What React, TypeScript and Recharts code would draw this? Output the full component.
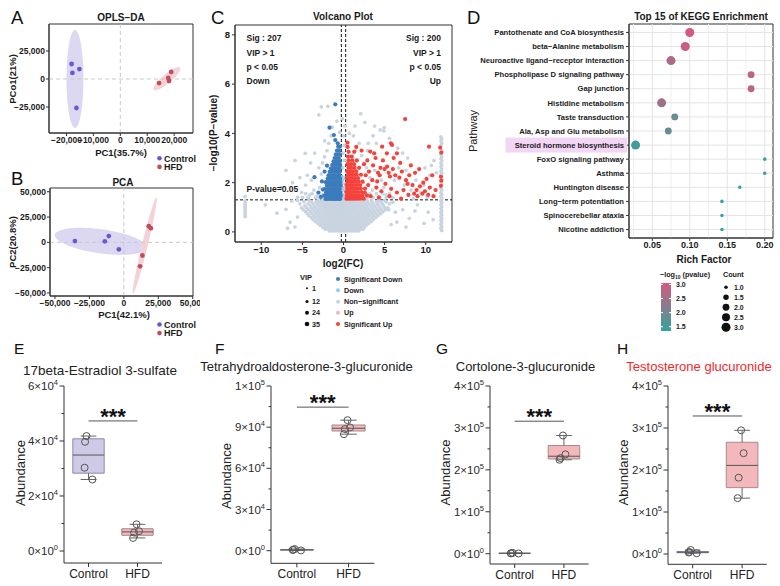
import React from 'react';
import {
  ScatterChart,
  Scatter,
  XAxis,
  YAxis,
  ZAxis,
  Cell,
  ReferenceArea,
  ReferenceLine,
} from 'recharts';

const FONT = '"Liberation Sans", Arial, Helvetica, sans-serif';
const INK = '#1a1a1a';
const FRAME = '#333333';

// ---------- A / B: score plots ----------
const GROUPS = ['Control', 'HFD'];
const GROUP_DOTS = ['#6b58cf', '#c04e5a'];
const GROUP_HALOS = ['#dcd8f1', '#f3d3d7'];

const OPLS_CONTROL = [[-18100, 13400], [-17800, 5400], [-15200, 8900], [-16300, -25900]];
const OPLS_HFD = [[14400, -3600], [17800, 900], [18100, -1800], [18900, 6250]];
// confidence ellipses: centre + two half-axis vectors
const OPLS_ELLIPSES = [
  { c: [-16850, 0], m: [0, 43750], n: [3150, 0] },
  { c: [17300, 300], m: [4900, 9800], n: [1100, -3100] },
];
const OPLS_X_TICKS = [-20000, -10000, 0, 10000, 20000];
const OPLS_Y_TICKS = [-25000, 0, 25000];

const PCA_CONTROL = [[-35500, 1300], [-13800, 1000], [-10900, 6200], [-3600, -6900]];
const PCA_HFD = [[18100, 16000], [19600, 14000], [13500, -13000], [11800, -23700]];
const PCA_ELLIPSES = [
  { c: [-16700, 1000], m: [33400, -5900], n: [0, 12000] },
  { c: [15200, -3000], m: [8500, 47800], n: [2200, 0] },
];
const PCA_X_TICKS = [-50000, -25000, 0, 25000, 50000];
const PCA_Y_TICKS = [-50000, -25000, 0, 25000, 50000];

// ---------- C: volcano ----------
const NS_ROWS: [number, number[]][] = [
  [0.04, [-1.7, -1.3, -0.95, -0.6, -0.3, 0.05, 0.35, 0.7, 1.05, 1.45, 1.85]],
  [0.11, [-2.2, -1.85, -1.5, -1.15, -0.8, -0.45, -0.15, 0.2, 0.5, 0.85, 1.2, 1.55, 1.95, 2.35]],
  [0.18, [-2.5, -2.1, -1.75, -1.4, -1.05, -0.7, -0.35, 0, 0.3, 0.65, 1, 1.35, 1.7, 2.1, 2.5]],
  [0.26, [-2.8, -2.35, -1.95, -1.6, -1.25, -0.9, -0.55, -0.2, 0.15, 0.45, 0.8, 1.15, 1.5, 1.9, 2.3, 2.75]],
  [0.34, [-3.1, -2.65, -2.2, -1.8, -1.45, -1.1, -0.75, -0.4, -0.05, 0.3, 0.65, 1, 1.35, 1.75, 2.15, 2.6, 3.05]],
  [0.42, [-3.4, -2.9, -2.45, -2.05, -1.65, -1.3, -0.95, -0.6, -0.25, 0.1, 0.45, 0.8, 1.15, 1.55, 1.95, 2.4, 2.85, 3.35]],
  [0.5, [-3.7, -3.15, -2.7, -2.25, -1.85, -1.5, -1.1, -0.75, -0.4, -0.05, 0.3, 0.65, 1, 1.4, 1.8, 2.2, 2.65, 3.1, 3.6]],
  [0.58, [-3.9, -3.4, -2.9, -2.45, -2.05, -1.65, -1.3, -0.95, -0.6, -0.2, 0.15, 0.5, 0.85, 1.25, 1.6, 2, 2.45, 2.9, 3.4, 3.9]],
  [0.66, [-4.2, -3.6, -3.1, -2.65, -2.2, -1.8, -1.45, -1.1, -0.75, -0.4, -0.05, 0.3, 0.7, 1.05, 1.45, 1.85, 2.3, 2.75, 3.2, 3.7, 4.2]],
  [0.74, [-4.4, -3.85, -3.3, -2.85, -2.4, -2, -1.6, -1.25, -0.9, -0.55, -0.2, 0.15, 0.5, 0.9, 1.3, 1.7, 2.1, 2.55, 3, 3.5, 4, 4.5]],
  [0.82, [-4.6, -4, -3.5, -3.05, -2.6, -2.15, -1.75, -1.4, -1.05, -0.7, -0.35, 0, 0.35, 0.75, 1.1, 1.5, 1.95, 2.4, 2.85, 3.3, 3.8, 4.3, 4.8]],
  [0.9, [-4.9, -4.25, -3.7, -3.2, -2.75, -2.3, -1.9, -1.55, -1.2, -0.85, -0.5, -0.15, 0.2, 0.55, 0.95, 1.35, 1.75, 2.2, 2.65, 3.1, 3.6, 4.1, 4.6, 5.1]],
  [0.98, [-5.1, -4.5, -3.9, -3.4, -2.9, -2.45, -2.05, -1.7, -1.35, -1, -0.65, -0.3, 0.05, 0.4, 0.8, 1.2, 1.6, 2.05, 2.5, 2.95, 3.45, 3.95, 4.45, 5, 5.4]],
  [1.06, [-4.7, -4.05, -3.55, -3.05, -2.6, -2.2, -1.85, -1.5, -1.15, -0.8, -0.45, -0.1, 0.25, 0.6, 1, 1.4, 1.85, 2.3, 2.8, 3.3, 3.8, 4.3, 4.85]],
  [1.14, [-5.3, -4.3, -3.7, -3.2, -2.75, -2.35, -1.95, -1.6, -1.25, -0.9, -0.55, -0.2, 0.15, 0.5, 0.85, 1.25, 1.65, 2.1, 2.6, 3.1, 3.6, 4.15, 4.7, 5.6]],
  [1.22, [-4.8, -3.9, -3.35, -2.9, -2.5, -2.1, -1.7, -1.35, -1, -0.65, -0.3, 0.05, 0.4, 0.75, 1.1, 1.5, 1.95, 2.4, 2.9, 3.45, 4, 4.55, 5.2]],
  [1.28, [-5.6, -4.2, -3.1, -2.6, -2.2, -1.8, -1.45, -1.1, -0.7, -0.35, 0, 0.35, 0.7, 1.05, 1.45, 1.9, 2.35, 2.85, 3.4, 4.3, 5]],
  [1.4, [-5, -4.3, -3.4, -2.9, 2.9, 3.6, 4.4, 5.2]],
  [1.55, [-4.6, -3.8, -3.1, 3.2, 4, 4.8, 5.6]],
];
const NS_SCATTER = [
  [-2.6, 1.5], [-2.9, 1.8], [-3.2, 1.45], [-3.6, 1.7], [-4.1, 1.5], [-4.6, 1.9], [-5.1, 1.6], [-5.6, 1.4],
  [-2.7, 2.35], [-3, 2.6], [-2.55, 2.8], [-2.3, 3.05], [-2, 3.3], [-1.8, 3.6], [-1.5, 3.9], [-2.3, 3.7],
  [-1.35, 4.25], [-0.8, 4.5], [-0.45, 4.05], [-2.7, 5.08], [-3, 4.75], [-1.9, 5.1], [-4.66, 3.19], [-4, 2.8],
  [-3.5, 3.2], [-6.2, 2], [-7, 2.5], [-5.9, 2.9], [-4.4, 2.3], [-3.9, 2.1], [-5.3, 2.2],
  [-0.1, 2.6], [0.08, 2.9], [-0.05, 3.2], [0.1, 3.5], [0.02, 3.9], [0.12, 4.3], [-0.12, 4.6], [0.05, 1.5], [0.15, 1.8], [0.1, 2.2],
  [1.5, 3.3], [2.2, 3.1], [3, 3.6], [4, 3.6], [2.8, 2.6], [3.2, 2.2], [4.6, 2.1], [5.2, 1.5], [6.2, 2.1], [7.4, 1.9],
  [8.8, 2.1], [9.9, 2.6], [10.7, 2.7], [11.3, 2.4], [7.8, 3], [6.6, 3.4], [5.6, 3.8], [4.9, 4.1], [3.8, 4.3], [2.6, 4.45],
  [1.4, 4.3], [0.7, 4], [1.9, 3.6], [3.5, 1.7], [6, 1.4], [8.5, 1.35], [9.4, 1.6], [2.1, 4.8], [4.95, 4.23], [4.46, 4.14],
  [1.2, 3.9], [2.9, 3.3], [3.6, 3.9], [2.4, 2], [2.8, 1.4], [3.8, 2.5], [4.9, 1.8], [6.7, 2.6], [7.6, 2.5], [8.2, 1.7],
  [9.8, 1.9], [10.5, 2.3], [11, 2.9], [10.2, 1.4], [7.2, 3.2],
  [-8.1, 0.76], [-7, 0.92], [-6.5, 0.4], [-5.9, 0.2], [-7.6, 1.8], [-9.5, 1.1], [-6.3, 1.25], [-5.6, 0.6], [-6.8, 0.15],
  [6.5, 0.4], [7.2, 0.9], [8, 0.55], [9, 1.1], [9.8, 0.35], [10.3, 0.8], [6, 1.2], [5.8, 0.3], [6.3, 0.8], [7.6, 0.2],
  [8.7, 0.85], [10.9, 0.5], [5.5, 0.9],
];
// metabolites pinned at the fold-change limits
const NS_EDGE_LEFT = [0.62, 0.7, 0.78, 0.86, 0.94, 1.02, 1.1, 1.18, 1.26, 1.44];
const NS_EDGE_RIGHT = [
  0.06, 0.15, 0.22, 0.31, 0.4, 0.47, 0.55, 0.63, 0.7, 0.79, 0.86, 0.95, 1.03, 1.1, 1.19, 1.27, 1.35, 1.44, 1.52, 1.6,
  1.69, 1.77, 1.95, 2.03, 2.12, 2.3, 2.38, 2.46, 2.55, 2.63, 2.72, 2.8, 2.89, 2.97, 3.05, 3.14, 3.3, 3.5, 3.6, 3.7, 3.78, 3.86,
];
const DOWN_POINTS = [[-0.2, 1.38], [-0.14, 1.52], [-0.22, 1.66], [-0.1, 1.8], [-0.18, 1.95], [-0.12, 2.1], [-0.2, 2.25], [-0.08, 1.45], [-0.16, 1.72]];
const UP_POINTS = [[0.2, 1.42], [0.14, 1.68], [0.22, 1.95]];
const SIG_DOWN_ROWS: [number, number[]][] = [
  [1.34, [-2.2, -1.92, -1.63, -1.38, -1.12, -0.88, -0.63, -0.41]],
  [1.47, [-2.35, -2.06, -1.77, -1.5, -1.24, -0.99, -0.74, -0.5, -0.33]],
  [1.6, [-2.12, -1.84, -1.58, -1.31, -1.06, -0.81, -0.57, -0.38]],
  [1.74, [-2.28, -1.97, -1.7, -1.44, -1.18, -0.93, -0.68, -0.45]],
  [1.88, [-2.03, -1.76, -1.49, -1.24, -0.99, -0.74, -0.5, -0.34]],
  [2.02, [-2.16, -1.86, -1.57, -1.3, -1.05, -0.8, -0.56, -0.39]],
  [2.16, [-1.93, -1.63, -1.36, -1.1, -0.85, -0.6, -0.4]],
  [2.3, [-1.82, -1.52, -1.26, -1, -0.75, -0.5]],
  [2.44, [-1.68, -1.4, -1.14, -0.9, -0.65, -0.44]],
  [2.58, [-1.53, -1.26, -1.01, -0.76, -0.5]],
  [2.72, [-1.37, -1.11, -0.86, -0.6, -0.4]],
  [2.86, [-1.22, -0.96, -0.7, -0.46]],
  [3, [-1.08, -0.82, -0.56]],
  [3.15, [-0.93, -0.66, -0.42]],
  [3.3, [-0.8, -0.52]],
  [3.46, [-0.64, -0.44]],
];
const SIG_DOWN_SCATTER = [
  [-1, 5.18], [-1.7, 4.23], [-1.17, 3.93], [-1, 3.73], [-3.53, 2.22], [-2, 2.69], [-2.62, 2.05], [-2.5, 1.72],
  [-2.75, 1.42], [-2.3, 2.45], [-0.7, 3.6], [-3.05, 1.6],
];
const SIG_UP_ROWS: [number, number[]][] = [
  [1.35, [0.36, 0.6, 0.86, 1.12, 1.4, 1.7, 2.02, 2.45]],
  [1.48, [0.4, 0.66, 0.94, 1.24, 1.56, 1.9, 2.3, 2.85]],
  [1.62, [0.34, 0.6, 0.9, 1.2, 1.5, 1.82, 2.2]],
  [1.76, [0.45, 0.74, 1.04, 1.36, 1.7, 2.1, 2.62]],
  [1.9, [0.38, 0.68, 0.99, 1.3, 1.64, 2.02]],
  [2.04, [0.5, 0.8, 1.12, 1.46, 1.86, 2.32]],
  [2.18, [0.4, 0.7, 1.02, 1.36, 1.76]],
  [2.32, [0.55, 0.86, 1.2, 1.6, 2.12]],
  [2.46, [0.45, 0.78, 1.14, 1.54]],
  [2.6, [0.6, 0.95, 1.34, 1.9]],
  [2.75, [0.5, 0.88, 1.28]],
  [2.9, [0.64, 1.08, 1.62]],
  [3.06, [0.55, 1]],
  [3.25, [0.62, 1.3]],
  [3.45, [0.5, 1.55]],
  [3.62, [0.49]],
];
const SIG_UP_SCATTER = [
  [3.25, 3.26], [3.73, 3.19], [4.7, 3.46], [5.77, 3.6], [5.28, 3.19], [6.5, 3.19], [7.5, 4.58], [10.4, 3.46],
  [11.76, 3.42], [11.9, 3.22], [11.85, 2.24], [11.9, 2.08], [11.85, 1.87], [2.9, 2.9], [3.6, 2.7], [4.2, 2.4],
  [4.5, 2.6], [5, 2.55], [5.3, 2.65], [5.5, 2.4], [6, 2.55], [6.3, 2.3], [6.8, 2.2], [7.1, 2.45], [7.6, 2.1],
  [8, 2.3], [8.4, 1.9], [8.9, 1.7], [9.3, 1.85], [9.7, 2], [10.1, 2.15], [10.5, 1.8], [9, 1.45], [9.6, 1.55],
  [10.3, 1.5], [3, 1.9], [3.5, 2.1], [4, 1.8], [4.6, 1.65], [5.1, 1.95], [5.8, 1.75], [6.5, 1.6], [7.3, 1.7],
  [7.9, 1.5], [3.3, 1.45], [4.3, 1.4], [2.7, 2.3], [3.9, 3], [4.8, 2.9], [6.9, 2.8], [8.7, 2.4], [2.6, 1.6],
  [5.6, 1.45], [7, 1.35], [8.2, 2.7], [9.2, 2.55], [10.8, 2.3], [11.2, 1.7], [6.1, 3], [4.1, 2.05], [4.4, 2.3],
  [5.9, 3.53], [2.2, 3.3], [2.5, 2.75], [3.1, 2.45], [5.65, 2.25], [7.8, 1.95], [10.95, 1.45], [9.9, 1.65], [8.6, 1.55],
];
const VOLCANO_X_TICKS = [-10, -5, 0, 5, 10];
const VOLCANO_Y_TICKS = [0, 2, 4, 6, 8];
const FC_CUTOFF = 0.263;
const P_CUTOFF = 1.301;

// ---------- D: KEGG enrichment ----------
const PATHWAYS = [
  'Pantothenate and CoA biosynthesis',
  'beta\u2212Alanine metabolism',
  'Neuroactive ligand\u2212receptor interaction',
  'Phospholipase D signaling pathway',
  'Gap junction',
  'Histidine metabolism',
  'Taste transduction',
  'Ala, Asp and Glu metabolism',
  'Steroid hormone biosynthesis',
  'FoxO signaling pathway',
  'Asthma',
  'Huntington disease',
  'Long\u2212term potentiation',
  'Spinocerebellar ataxia',
  'Nicotine addiction',
];
const RICH_FACTOR = [0.1, 0.094, 0.075, 0.1818, 0.1818, 0.0625, 0.08, 0.0714, 0.0278, 0.2, 0.2, 0.1667, 0.1429, 0.1429, 0.1429];
const HIT_COUNT = [3, 3, 3, 2, 2, 3, 2, 2, 3, 1, 1, 1, 1, 1, 1];
const NEG_LOG_P = [3.0, 2.9, 2.6, 2.75, 2.75, 2.45, 1.95, 1.9, 1.5, 1.4, 1.4, 1.38, 1.36, 1.36, 1.36];
const HIGHLIGHT = 8;
const KEGG_X_TICKS = [0.05, 0.1, 0.15, 0.2];
const KEGG_GRID_X = [0.025, 0.05, 0.075, 0.1, 0.125, 0.15, 0.175, 0.2];
const COLORBAR_TICKS = [3.0, 2.5, 2.0, 1.5];
const COUNT_KEYS = [1.0, 1.5, 2.0, 2.5, 3.0];

// ---------- E-H: metabolite abundance ----------
const ESTRADIOL_POINTS = [[41800, 39700, 30300, 26000], [9700, 7200, 6700, 4750]];
const ESTRADIOL_BOX = [[26000, 28300, 34900, 40800, 41800], [4750, 5700, 6950, 8100, 9700]];
const ESTRADIOL_SIG = 47300;
const ESTRADIOL_TICKS = [0, 10000, 20000, 30000, 40000, 50000, 60000];

const THALDO_POINTS = [[1200, 700, 500, 200], [95100, 89800, 88600, 84900]];
const THALDO_BOX = [[200, 400, 600, 900, 1200], [84900, 87200, 89200, 91600, 95100]];
const THALDO_SIG = 104600;
const THALDO_TICKS = [0, 15000, 30000, 45000, 60000, 75000, 90000, 105000, 120000];

const CORTOLONE_POINTS = [[1800, 1200, 800, 500], [282000, 237000, 228000, 224000]];
const CORTOLONE_BOX = [[500, 700, 1000, 1400, 1800], [224000, 226000, 232500, 258000, 282000]];
const CORTOLONE_SIG = 316000;

const TESTO_POINTS = [[9500, 5000, 3500, 1800], [294500, 240000, 181700, 133000]];
const TESTO_BOX = [[1800, 3000, 4250, 6000, 9500], [133000, 158000, 211000, 266000, 294500]];
const TESTO_SIG = 328600;
const E5_TICKS = [0, 50000, 100000, 150000, 200000, 250000, 300000, 350000, 400000];

const JITTER = [[-0.04, -0.07, -0.08, 0.08], [-0.02, 0.03, -0.07, -0.09]];
const BOX_FILLS = ['#cec9e6', '#f2b8bb'];
const BOX_EDGES = ['#8f8aa8', '#a88a8c'];

// ---------- helpers ----------
const fmtComma = (v: number) => (v < 0 ? '\u2212' : '') + Math.abs(v).toLocaleString('en-US');
const fmtSigned = (v: number) => (v < 0 ? '\u2212' : '') + Math.abs(v);
const toXY = (pts: number[][]) => pts.map(([x, y]) => ({ x, y }));
const rowsToXY = (rows: [number, number[]][]) => rows.flatMap(([y, xs]) => xs.map((x) => ({ x, y })));

const dot = (fill: string, r: number) => (p: any) => <circle cx={p.cx} cy={p.cy} r={r} fill={fill} />;

const RAMP_HI = [214, 88, 127];
const RAMP_LO = [52, 163, 156];
const rampColor = (p: number) => {
  const t = Math.max(0, Math.min(1, (p - 1.35) / (3.05 - 1.35)));
  const c = RAMP_LO.map((lo, i) => Math.round(lo + (RAMP_HI[i] - lo) * t));
  return `rgb(${c.join(',')})`;
};
const countRadius = (c: number) => Math.sqrt((10 + ((c - 1) / 2) * 54) / Math.PI);

type Ellipse = { c: number[]; m: number[]; n: number[] };

// ellipse drawn inside its bounding ReferenceArea, so it follows the axis scales
function ellipseArea(e: Ellipse, fill: string, key: string) {
  const hx = Math.hypot(e.m[0], e.n[0]);
  const hy = Math.hypot(e.m[1], e.n[1]);
  const shape = (p: any) => {
    const kx = p.width / (2 * hx);
    const ky = p.height / (2 * hy);
    const ox = p.x + p.width / 2;
    const oy = p.y + p.height / 2;
    const pts: string[] = [];
    for (let i = 0; i < 96; i++) {
      const t = (i / 96) * Math.PI * 2;
      const dx = Math.cos(t) * e.m[0] + Math.sin(t) * e.n[0];
      const dy = Math.cos(t) * e.m[1] + Math.sin(t) * e.n[1];
      pts.push(`${(ox + dx * kx).toFixed(2)},${(oy - dy * ky).toFixed(2)}`);
    }
    return <polygon points={pts.join(' ')} fill={fill} stroke="none" />;
  };
  return (
    <ReferenceArea
      key={key}
      x1={e.c[0] - hx}
      x2={e.c[0] + hx}
      y1={e.c[1] - hy}
      y2={e.c[1] + hy}
      ifOverflow="visible"
      shape={shape}
    />
  );
}

const boldTick = (size: number) => ({ fontSize: size, fontWeight: 700, fill: INK, fontFamily: FONT });

function ScorePlot({ left, top, width, height, margin, yWidth, xDomain, yDomain, xTicks, yTicks, groups, ellipses }: any) {
  return (
    <div style={{ position: 'absolute', left, top }}>
      <ScatterChart width={width} height={height} margin={margin}>
        <XAxis
          type="number"
          dataKey="x"
          domain={xDomain}
          ticks={xTicks}
          interval={0}
          allowDataOverflow
          tickFormatter={fmtComma}
          tick={boldTick(8.5)}
          tickSize={3}
          tickMargin={1}
          tickLine={{ stroke: FRAME }}
          axisLine={{ stroke: FRAME }}
          height={20}
        />
        <YAxis
          type="number"
          dataKey="y"
          domain={yDomain}
          ticks={yTicks}
          interval={0}
          allowDataOverflow
          tickFormatter={fmtComma}
          tick={boldTick(8.5)}
          tickSize={3}
          tickMargin={1}
          tickLine={{ stroke: FRAME }}
          axisLine={{ stroke: FRAME }}
          width={yWidth}
        />
        {ellipses.map((e: Ellipse, i: number) => ellipseArea(e, GROUP_HALOS[i], `ell-${i}`))}
        <ReferenceLine x={0} stroke="#c9c9c9" strokeDasharray="4 3" />
        <ReferenceLine y={0} stroke="#c9c9c9" strokeDasharray="4 3" />
        {groups.map((pts: number[][], i: number) => (
          <Scatter key={GROUPS[i]} name={GROUPS[i]} data={toXY(pts)} shape={dot(GROUP_DOTS[i], 2.4)} isAnimationActive={false} />
        ))}
        <ReferenceArea x1={xDomain[0]} x2={xDomain[1]} y1={yDomain[0]} y2={yDomain[1]} fill="none" stroke={FRAME} ifOverflow="visible" />
      </ScatterChart>
    </div>
  );
}

function VolcanoPlot() {
  const xDomain = [-13.2, 13.2];
  const yDomain = [-0.41, 8.4];
  const nonSig = [
    ...rowsToXY(NS_ROWS),
    ...toXY(NS_SCATTER),
    ...NS_EDGE_LEFT.map((y) => ({ x: -11.97, y })),
    ...NS_EDGE_RIGHT.map((y, i) => ({ x: i % 2 ? 11.85 : 11.95, y })),
  ];
  return (
    <div style={{ position: 'absolute', left: 200, top: 0 }}>
      <ScatterChart width={260} height={270} margin={{ top: 25, right: 8, bottom: 8, left: 10 }}>
        <XAxis
          type="number"
          dataKey="x"
          domain={xDomain}
          ticks={VOLCANO_X_TICKS}
          interval={0}
          allowDataOverflow
          tickFormatter={fmtSigned}
          tick={boldTick(9.5)}
          tickSize={3}
          tickMargin={1}
          tickLine={{ stroke: FRAME }}
          axisLine={{ stroke: FRAME }}
          height={20}
        />
        <YAxis
          type="number"
          dataKey="y"
          domain={yDomain}
          ticks={VOLCANO_Y_TICKS}
          interval={0}
          allowDataOverflow
          tick={boldTick(9.5)}
          tickSize={3}
          tickMargin={2}
          tickLine={{ stroke: FRAME }}
          axisLine={{ stroke: FRAME }}
          width={25}
        />
        <Scatter name="Non-significant" data={nonSig} shape={dot('#c9d4e0', 1.85)} isAnimationActive={false} />
        <Scatter name="Down" data={toXY(DOWN_POINTS)} shape={dot('#8fd0ef', 1.8)} isAnimationActive={false} />
        <Scatter name="Up" data={toXY(UP_POINTS)} shape={dot('#f6b4c3', 1.8)} isAnimationActive={false} />
        <Scatter
          name="Significant Down"
          data={[...rowsToXY(SIG_DOWN_ROWS), ...toXY(SIG_DOWN_SCATTER)]}
          shape={dot('#3b7cbc', 2.1)}
          isAnimationActive={false}
        />
        <Scatter
          name="Significant Up"
          data={[...rowsToXY(SIG_UP_ROWS), ...toXY(SIG_UP_SCATTER)]}
          shape={dot('#f4423c', 2.1)}
          isAnimationActive={false}
        />
        <ReferenceLine x={-FC_CUTOFF} stroke="#111" strokeDasharray="3 2" />
        <ReferenceLine x={FC_CUTOFF} stroke="#111" strokeDasharray="3 2" />
        <ReferenceLine y={P_CUTOFF} stroke="#111" strokeDasharray="3 2" />
        <ReferenceArea x1={xDomain[0]} x2={xDomain[1]} y1={yDomain[0]} y2={yDomain[1]} fill="none" stroke={FRAME} ifOverflow="visible" />
      </ScatterChart>
    </div>
  );
}

const pathwayTick = (p: any) => {
  const i = 15 - p.payload.value;
  const hl = i === HIGHLIGHT;
  return (
    <g>
      {hl && <rect x={p.x - 118.5} y={p.y - 7.5} width={121.5} height={15} fill="#f3d5f5" />}
      <text x={p.x} y={p.y + 2.7} textAnchor="end" fontSize={7.6} fontWeight={700} fill={INK} fontFamily={FONT}>
        {PATHWAYS[i]}
      </text>
    </g>
  );
};

function KeggPlot() {
  const xDomain = [0.019, 0.211];
  const yDomain = [0.4, 15.6];
  const rows = PATHWAYS.map((_, i) => 15 - i);
  const data = PATHWAYS.map((name, i) => ({ name, x: RICH_FACTOR[i], y: 15 - i, z: HIT_COUNT[i], p: NEG_LOG_P[i] }));
  return (
    <div style={{ position: 'absolute', left: 460, top: 0 }}>
      <ScatterChart width={320} height={270} margin={{ top: 24, right: 7, bottom: 12, left: 0 }}>
        <XAxis
          type="number"
          dataKey="x"
          domain={xDomain}
          ticks={KEGG_X_TICKS}
          interval={0}
          allowDataOverflow
          tickFormatter={(v: number) => v.toFixed(2)}
          tick={boldTick(9)}
          tickSize={3}
          tickMargin={1}
          tickLine={{ stroke: FRAME }}
          axisLine={{ stroke: FRAME }}
          height={20}
        />
        <YAxis
          type="number"
          dataKey="y"
          domain={yDomain}
          ticks={rows}
          interval={0}
          allowDataOverflow
          tick={pathwayTick}
          tickSize={3}
          tickMargin={2}
          tickLine={{ stroke: FRAME }}
          axisLine={{ stroke: FRAME }}
          width={169}
        />
        <ZAxis type="number" dataKey="z" domain={[1, 3]} range={[10, 64]} />
        {KEGG_GRID_X.map((v, i) => (
          <ReferenceLine key={`gx-${v}`} x={v} stroke={i % 2 ? '#e4e4e4' : '#efefef'} />
        ))}
        {rows.map((v) => (
          <ReferenceLine key={`gy-${v}`} y={v} stroke="#e4e4e4" />
        ))}
        <Scatter data={data} isAnimationActive={false}>
          {data.map((d) => (
            <Cell key={d.name} fill={rampColor(d.p)} />
          ))}
        </Scatter>
        <ReferenceArea x1={xDomain[0]} x2={xDomain[1]} y1={yDomain[0]} y2={yDomain[1]} fill="none" stroke={FRAME} ifOverflow="visible" />
      </ScatterChart>
    </div>
  );
}

const sciLabel = (v: number) => {
  if (v === 0) return ['0', '0'];
  const e = Math.floor(Math.log10(v));
  return [String(Math.round(v / 10 ** e)), String(e)];
};

const sciTick = (axisX: number, majorStep: number) => (p: any) => {
  const v = p.payload.value;
  const major = Math.abs(v / majorStep - Math.round(v / majorStep)) < 1e-6;
  const [m, e] = sciLabel(v);
  return (
    <g>
      <line x1={axisX - (major ? 4.5 : 2.5)} x2={axisX} y1={p.y} y2={p.y} stroke={FRAME} />
      {major && (
        <text x={axisX - 6} y={p.y + 4} textAnchor="end" fontSize={11.5} fill="#2a2a2a" fontFamily={FONT}>
          {m}×10
          <tspan dy={-5} fontSize={7.5}>
            {e}
          </tspan>
        </text>
      )}
    </g>
  );
};

function BoxPanel({ axisX, unit, bottomY, yDomain, ticks, majorStep, boxes, points, sig }: any) {
  const TOP = 376;
  const H = 212;
  const YW = 70;
  const W = 200;
  const margin = { top: 386 - TOP, left: 0, right: W - YW - 2 * unit, bottom: H - (bottomY - TOP) - 22 };
  const half = 0.32;
  const cap = 0.16;
  const seg = (x1: number, y1: number, x2: number, y2: number) => [{ x: x1, y: y1 }, { x: x2, y: y2 }];
  const pts = points.flatMap((vals: number[], g: number) => vals.map((y, i) => ({ x: g + 1 + JITTER[g][i], y })));
  return (
    <div style={{ position: 'absolute', left: axisX - YW, top: TOP }}>
      <ScatterChart width={W} height={H} margin={margin}>
        <XAxis
          type="number"
          dataKey="x"
          domain={[0.5, 2.5]}
          ticks={[1, 2]}
          interval={0}
          allowDataOverflow
          tickFormatter={(v: number) => GROUPS[v - 1]}
          tick={{ fontSize: 12, fill: '#222', fontFamily: FONT }}
          tickSize={4}
          tickMargin={2}
          tickLine={{ stroke: FRAME }}
          axisLine={{ stroke: FRAME }}
          height={22}
        />
        <YAxis
          type="number"
          dataKey="y"
          domain={yDomain}
          ticks={ticks}
          interval={0}
          allowDataOverflow
          tick={sciTick(YW, majorStep)}
          tickLine={false}
          axisLine={{ stroke: FRAME }}
          width={YW}
        />
        {boxes.map((b: number[], g: number) => {
          const c = g + 1;
          const [lo, q1, med, q3, hi] = b;
          return [
            <ReferenceLine key={`wt-${g}`} segment={seg(c, q3, c, hi)} stroke="#666" />,
            <ReferenceLine key={`wb-${g}`} segment={seg(c, q1, c, lo)} stroke="#666" />,
            <ReferenceLine key={`ct-${g}`} segment={seg(c - cap, hi, c + cap, hi)} stroke="#666" />,
            <ReferenceLine key={`cb-${g}`} segment={seg(c - cap, lo, c + cap, lo)} stroke="#666" />,
            <ReferenceArea
              key={`bx-${g}`}
              x1={c - half}
              x2={c + half}
              y1={q1}
              y2={q3}
              fill={BOX_FILLS[g]}
              fillOpacity={1}
              stroke={BOX_EDGES[g]}
              ifOverflow="visible"
            />,
            <ReferenceLine key={`md-${g}`} segment={seg(c - half, med, c + half, med)} stroke="#555" />,
          ];
        })}
        <ReferenceLine segment={seg(1, sig, 2, sig)} stroke="#555" />
        <Scatter
          data={pts}
          shape={(p: any) => <circle cx={p.cx} cy={p.cy} r={3.5} fill="none" stroke="#555" strokeWidth={1} />}
          isAnimationActive={false}
        />
        <Scatter
          data={[{ x: 1.5, y: sig }]}
          shape={(p: any) => (
            <text x={p.cx} y={p.cy + 3} textAnchor="middle" fontSize={22} fontWeight={700} fill="#111" fontFamily={FONT}>
              ***
            </text>
          )}
          isAnimationActive={false}
        />
      </ScatterChart>
    </div>
  );
}

function Labels() {
  const b = { fontWeight: 700, fill: INK };
  const volcanoKeys = [
    ['Significant Down', '#3b7cbc', 279],
    ['Down', '#8fd0ef', 290.3],
    ['Non\u2212significant', '#c9d4e0', 301.7],
    ['Up', '#f6b4c3', 312.7],
    ['Significant Up', '#f4423c', 324],
  ];
  const vipKeys = [
    ['1', 1, 288.3],
    ['12', 1.6, 301.5],
    ['24', 2, 312.7],
    ['35', 2.3, 324],
  ];
  const barTop = 283;
  const barH = 48;
  const barY = (v: number) => barTop + ((3.05 - v) / 1.7) * barH;
  return (
    <svg width={780} height={586} style={{ position: 'absolute', left: 0, top: 0, pointerEvents: 'none' }} fontFamily={FONT}>
      <defs>
        <linearGradient id="pvalRamp" x1="0" y1="0" x2="0" y2="1">
          <stop offset="0%" stopColor={rampColor(3.05)} />
          <stop offset="50%" stopColor={rampColor(2.2)} />
          <stop offset="100%" stopColor={rampColor(1.35)} />
        </linearGradient>
      </defs>

      {/* panel letters */}
      <text x={11} y={23.5} fontSize={18.5} fill="#111">A</text>
      <text x={11} y={185} fontSize={18.5} fill="#111">B</text>
      <text x={211} y={23.5} fontSize={18.5} fill="#111">C</text>
      <text x={467} y={23.5} fontSize={18.5} fill="#111">D</text>
      <text x={14} y={354} fontSize={15.5} fill="#111">E</text>
      <text x={215} y={354} fontSize={15.5} fill="#111">F</text>
      <text x={436} y={354} fontSize={15.5} fill="#111">G</text>
      <text x={617} y={354} fontSize={15.5} fill="#111">H</text>

      {/* A */}
      <text x={121} y={20.5} fontSize={10} textAnchor="middle" {...b}>OPLS−DA</text>
      <text transform="translate(15.5,79) rotate(-90)" fontSize={9.5} textAnchor="middle" {...b}>PCo1(21%)</text>
      <text x={121} y={155.5} fontSize={9.5} textAnchor="middle" {...b}>PC1(35.7%)</text>
      <circle cx={159.5} cy={158.3} r={2.3} fill={GROUP_DOTS[0]} />
      <text x={164} y={161.5} fontSize={9} {...b}>Control</text>
      <circle cx={159.5} cy={166.9} r={2.3} fill={GROUP_DOTS[1]} />
      <text x={164} y={170.1} fontSize={9} {...b}>HFD</text>

      {/* B */}
      <text x={123} y={185.5} fontSize={10} textAnchor="middle" {...b}>PCA</text>
      <text transform="translate(15.5,242) rotate(-90)" fontSize={9.5} textAnchor="middle" {...b}>PC2(20.8%)</text>
      <text x={124} y={317.5} fontSize={9.5} textAnchor="middle" {...b}>PC1(42.1%)</text>
      <circle cx={159.5} cy={324.5} r={2.3} fill={GROUP_DOTS[0]} />
      <text x={164} y={327.7} fontSize={9} {...b}>Control</text>
      <circle cx={159.5} cy={333.1} r={2.3} fill={GROUP_DOTS[1]} />
      <text x={164} y={336.3} fontSize={9} {...b}>HFD</text>

      {/* C */}
      <text x={343} y={19.5} fontSize={10} textAnchor="middle" {...b}>Volcano Plot</text>
      <text transform="translate(216.8,133) rotate(-90)" fontSize={10} textAnchor="middle" {...b}>−log10(P−value)</text>
      <text x={343} y={266.5} fontSize={10} textAnchor="middle" {...b}>log2(FC)</text>
      <text x={246.5} y={41} fontSize={8.5} {...b}>Sig : 207</text>
      <text x={246.5} y={55.5} fontSize={8.5} {...b}>VIP &gt; 1</text>
      <text x={246.5} y={69.5} fontSize={8.5} {...b}>p &lt; 0.05</text>
      <text x={246.5} y={83.5} fontSize={8.5} {...b}>Down</text>
      <text x={441} y={41} fontSize={8.5} textAnchor="end" {...b}>Sig : 200</text>
      <text x={441} y={55.5} fontSize={8.5} textAnchor="end" {...b}>VIP &gt; 1</text>
      <text x={441} y={69.5} fontSize={8.5} textAnchor="end" {...b}>p &lt; 0.05</text>
      <text x={441} y={83.5} fontSize={8.5} textAnchor="end" {...b}>Up</text>
      <text x={246.5} y={192.3} fontSize={8.5} {...b}>P-value=0.05</text>
      <text x={306} y={279.5} fontSize={7.5} textAnchor="middle" {...b}>VIP</text>
      {vipKeys.map(([t, r, y]) => (
        <g key={`vip-${t}`}>
          <circle cx={307} cy={y as number} r={r as number} fill="#111" />
          <text x={312} y={(y as number) + 2.6} fontSize={7.2} {...b}>{t}</text>
        </g>
      ))}
      {volcanoKeys.map(([t, c, y]) => (
        <g key={`vk-${t}`}>
          <circle cx={338} cy={y as number} r={2} fill={c as string} />
          <text x={344} y={(y as number) + 2.6} fontSize={7.2} {...b}>{t}</text>
        </g>
      ))}

      {/* D */}
      <text x={701} y={19.5} fontSize={10} textAnchor="middle" {...b}>Top 15 of KEGG Enrichment</text>
      <text transform="translate(477,131) rotate(-90)" fontSize={11} textAnchor="middle" fill={INK}>Pathway</text>
      <text x={704} y={263} fontSize={10} textAnchor="middle" {...b}>Rich Factor</text>
      <text x={660} y={277} fontSize={7.2} {...b}>
        −log<tspan dy={2} fontSize={5}>10</tspan>
        <tspan dy={-2}> (pvalue)</tspan>
      </text>
      <rect x={661} y={barTop} width={10} height={barH} fill="url(#pvalRamp)" />
      {COLORBAR_TICKS.map((v) => (
        <g key={`cb-${v}`}>
          <line x1={661} x2={663} y1={barY(v)} y2={barY(v)} stroke="#fff" />
          <line x1={669} x2={671} y1={barY(v)} y2={barY(v)} stroke="#fff" />
          <text x={676} y={barY(v) + 2.5} fontSize={7} {...b}>{v.toFixed(1)}</text>
        </g>
      ))}
      <text x={723} y={277} fontSize={7.2} {...b}>Count</text>
      {COUNT_KEYS.map((c, i) => (
        <g key={`ck-${c}`}>
          <circle cx={726} cy={287.3 + i * 10} r={countRadius(c)} fill="#111" />
          <text x={734} y={289.8 + i * 10} fontSize={7} {...b}>{c.toFixed(1)}</text>
        </g>
      ))}

      {/* E-H */}
      <text x={100} y={375} fontSize={13.5} textAnchor="middle" fill="#222">17beta-Estradiol 3-sulfate</text>
      <text x={306.5} y={370.5} fontSize={13} textAnchor="middle" fill="#222">Tetrahydroaldosterone-3-glucuronide</text>
      <text x={525.5} y={370.5} fontSize={13} textAnchor="middle" fill="#222">Cortolone-3-glucuronide</text>
      <text x={699} y={370.5} fontSize={13} textAnchor="middle" fill="#f22a2a">Testosterone glucuronide</text>
      <text transform="translate(24.5,473) rotate(-90)" fontSize={13} textAnchor="middle" fill="#222">Abundance</text>
      <text transform="translate(231,476) rotate(-90)" fontSize={13} textAnchor="middle" fill="#222">Abundance</text>
      <text transform="translate(449.5,472.5) rotate(-90)" fontSize={13} textAnchor="middle" fill="#222">Abundance</text>
      <text transform="translate(627.8,472.5) rotate(-90)" fontSize={13} textAnchor="middle" fill="#222">Abundance</text>
    </svg>
  );
}

export default function App() {
  return (
    <div
      style={{
        position: 'absolute',
        left: 0,
        top: 0,
        width: 780,
        height: 586,
        background: '#fff',
        overflow: 'hidden',
        fontFamily: FONT,
      }}
    >
      <ScorePlot
        left={0}
        top={0}
        width={200}
        height={170}
        margin={{ top: 24, right: 7, bottom: 17, left: 9 }}
        yWidth={40}
        xDomain={[-26500, 27000]}
        yDomain={[-48200, 49100]}
        xTicks={OPLS_X_TICKS}
        yTicks={OPLS_Y_TICKS}
        groups={[OPLS_CONTROL, OPLS_HFD]}
        ellipses={OPLS_ELLIPSES}
      />
      <ScorePlot
        left={0}
        top={175}
        width={200}
        height={141}
        margin={{ top: 13, right: 7, bottom: 0, left: 9 }}
        yWidth={41}
        xDomain={[-53600, 50200]}
        yDomain={[-53000, 53700]}
        xTicks={PCA_X_TICKS}
        yTicks={PCA_Y_TICKS}
        groups={[PCA_CONTROL, PCA_HFD]}
        ellipses={PCA_ELLIPSES}
      />
      <VolcanoPlot />
      <KeggPlot />
      <BoxPanel
        axisX={64}
        unit={49}
        bottomY={563}
        yDomain={[-4364, 60000]}
        ticks={ESTRADIOL_TICKS}
        majorStep={20000}
        boxes={ESTRADIOL_BOX}
        points={ESTRADIOL_POINTS}
        sig={ESTRADIOL_SIG}
      />
      <BoxPanel
        axisX={271}
        unit={51.7}
        bottomY={563.3}
        yDomain={[-9180, 120000]}
        ticks={THALDO_TICKS}
        majorStep={30000}
        boxes={THALDO_BOX}
        points={THALDO_POINTS}
        sig={THALDO_SIG}
      />
      <BoxPanel
        axisX={490}
        unit={49.3}
        bottomY={564}
        yDomain={[-24570, 400000]}
        ticks={E5_TICKS}
        majorStep={100000}
        boxes={CORTOLONE_BOX}
        points={CORTOLONE_POINTS}
        sig={CORTOLONE_SIG}
      />
      <BoxPanel
        axisX={668.3}
        unit={49.4}
        bottomY={564.3}
        yDomain={[-24520, 400000]}
        ticks={E5_TICKS}
        majorStep={100000}
        boxes={TESTO_BOX}
        points={TESTO_POINTS}
        sig={TESTO_SIG}
      />
      <Labels />
    </div>
  );
}
